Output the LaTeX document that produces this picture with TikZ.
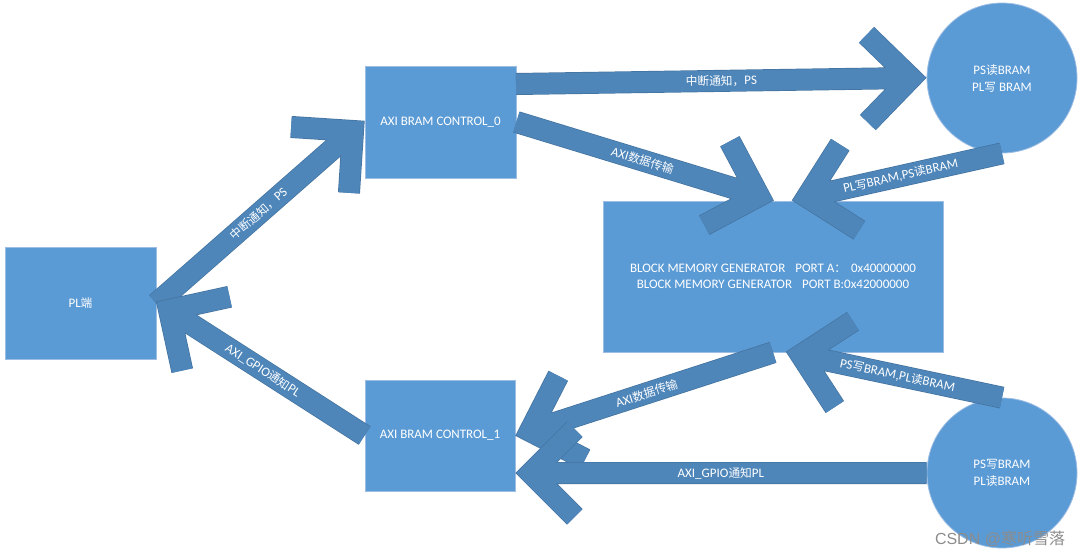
\documentclass[tikz,border=0pt]{standalone}
\usepackage{fontspec}
\setmainfont{Carlito}
\newfontfamily\cjk[Scale=0.9]{Noto Sans CJK SC}
\newfontfamily\cjkmark{Noto Sans CJK SC}
\newfontfamily\wmfont{Liberation Sans}
\usetikzlibrary{calc}

\definecolor{boxblue}{HTML}{5B9BD5}
\definecolor{boxedge}{HTML}{9DBDE3}
\definecolor{arrowblue}{HTML}{4E86BA}
\definecolor{arrowedge}{HTML}{44739F}
\definecolor{markgray}{HTML}{8C8C8C}

\newcommand{\zh}[1]{{\cjk #1}}

\begin{document}
\begin{tikzpicture}[x=1pt, y=-1pt]

    \tikzset{
        block/.style={
            draw=boxedge,
            fill=boxblue,
            line width=0.8pt,
            text=white,
            align=center,
            inner sep=0pt,
            font=\fontsize{13}{16}\selectfont
        },
        store/.style={
            block,
            circle,
            minimum size=150pt,
            font=\fontsize{13}{17}\selectfont
        },
        arrowlabel/.style={
            text=white,
            inner sep=0pt,
            font=\fontsize{13}{14}\selectfont
        }
    }

    \useasboundingbox (0,0) rectangle (1083,557);

    % bloky
    \node[block, minimum width=151pt, minimum height=112pt] (pl)    at (80.5,303.5) {PL\zh{端}};
    \node[block, minimum width=151pt, minimum height=112pt] (ctrl0) at (440.5,122)  {AXI BRAM CONTROL\_0};
    \node[block, minimum width=150pt, minimum height=111pt] (ctrl1) at (440,435.5)  {AXI BRAM CONTROL\_1};
    \node[block, minimum width=340pt, minimum height=151pt] (bmg)   at (773,276.5)
        {BLOCK MEMORY GENERATOR\hspace{10pt}PORT A\zh{：}\hspace{5pt}0x40000000\\
         BLOCK MEMORY GENERATOR\hspace{10pt}PORT B:0x42000000};
    \node[store] (psrd) at (1002,78)  {PS\zh{读}BRAM\\PL\zh{写} BRAM};
    \node[store] (pswr) at (1002,473) {PS\zh{写}BRAM\\PL\zh{读}BRAM};

    % konce šipek
    \coordinate (c0-top)   at (516,84);
    \coordinate (c0-in)    at (353,131);
    \coordinate (ps-rd-in) at (911,78);
    \coordinate (bmg-l)    at (759,196);
    \coordinate (bmg-r)    at (807,197);
    \coordinate (bmg-d)    at (801,355);
    \coordinate (c1-dat)   at (530,431);
    \coordinate (c1-in)    at (531,473);
    \coordinate (pl-in)    at (169,310);

    % šipky: dřík + otevřená hlava
    \foreach \tail/\head/\txt in {
        pl.east/c0-in/{\zh{中断通知，}PS},
        c0-top/ps-rd-in/{\zh{中断通知，}PS},
        ctrl0.east/bmg-l/{AXI\zh{数据传输}},
        psrd.south/bmg-r/{PL\zh{写}BRAM,PS\zh{读}BRAM},
        pswr.north/bmg-d/{PS\zh{写}BRAM,PL\zh{读}BRAM},
        bmg.south/c1-dat/{AXI\zh{数据传输}},
        pswr.west/c1-in/{AXI\_GPIO\zh{通知}PL},
        ctrl1.west/pl-in/{AXI\_GPIO\zh{通知}PL}
    }{
        \foreach \w/\col in {22/arrowedge, 20.6/arrowblue}
            \draw[line width=\w pt, draw=\col, line join=miter]
                (\tail) -- (\head)
                ($(\head)!62pt!45:(\tail)$) -- (\head) -- ($(\head)!62pt!-45:(\tail)$);
        \path (\tail) -- (\head) node[pos=.52, sloped, arrowlabel] {\txt};
    }

    % vodoznak
    \node[text=markgray, font=\wmfont\fontsize{16}{16}\selectfont] (mark) at (1000,539) {CSDN @{\cjkmark 寒听雪落}};

\end{tikzpicture}
\end{document}
